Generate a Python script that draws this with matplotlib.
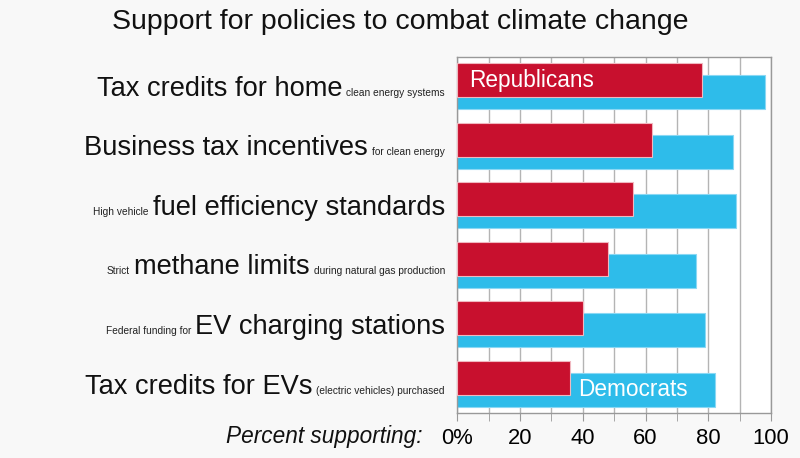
import matplotlib
matplotlib.use('Agg')
import matplotlib.pyplot as plt
import matplotlib.transforms as transforms

plt.rcParams['font.family'] = ['Liberation Sans', 'DejaVu Sans']

# Policy labels: small prefix, large main text, small suffix
prefixes = ['', '', 'High vehicle', 'Strict', 'Federal funding for', '']
mains = ['Tax credits for home', 'Business tax incentives', 'fuel efficiency standards',
         'methane limits', 'EV charging stations', 'Tax credits for EVs']
suffixes = ['clean energy systems', 'for clean energy', '', 'during natural gas production',
            '', '(electric vehicles) purchased']

# Percent supporting
republicans = [78, 62, 56, 48, 40, 36]
democrats = [98, 88, 89, 76, 79, 82]

tick_values = [0, 20, 40, 60, 80, 100]
tick_labels = ['0%', '20', '40', '60', '80', '100']

red = '#c8102e'
blue = '#2ebcea'

fig = plt.figure(figsize=(8, 4.58), dpi=100, facecolor='#f8f8f8')
ax = fig.add_axes([457.3 / 800, 1 - 413 / 458, (771 - 457.3) / 800, 356 / 458])
ax.set_facecolor('white')

rows = list(range(len(mains)))
ax.barh([r + 0.1 for r in rows], democrats, height=0.57, color=blue,
        edgecolor='#8ad8f4', linewidth=0.8, zorder=2)
ax.barh([r - 0.1 for r in rows], republicans, height=0.57, color=red,
        edgecolor='#f0b8c0', linewidth=0.8, zorder=3)

ax.set_xlim(0, 100)
ax.set_ylim(5.487, -0.487)
ax.set_xticks(tick_values)
ax.set_xticklabels(tick_labels, fontsize=15.8)
ax.set_xticks(range(10, 100, 20), minor=True)
ax.set_yticks([])
ax.tick_params(axis='x', which='both', direction='out', length=6, color='#999999', pad=5)
ax.grid(True, axis='x', which='both', color='#b4b4b4', linewidth=1)
ax.set_axisbelow(True)
for s in ax.spines.values():
    s.set_color('#999999')
    s.set_linewidth(1)

ax.text(3.7, -0.1, 'Republicans', color='white', fontsize=16.3, va='center', zorder=4)
ax.text(38.4, 5.1, 'Democrats', color='white', fontsize=16.3, va='center', zorder=4)

fig.text(0.5, 1 - 22 / 458, 'Support for policies to combat climate change',
         fontsize=20.5, ha='center', va='center', color='#111111')
fig.text(422 / 800, 1 - 437 / 458, 'Percent supporting:', fontsize=16.3,
         style='italic', ha='right', va='center', color='#111111')

# composite row labels, built right to left
renderer = fig.canvas.get_renderer()
trans = transforms.blended_transform_factory(fig.transFigure, ax.transData)
for i in rows:
    x = 445
    y = i + 0.16
    for txt, size, col in [(suffixes[i], 7.3, '#222222'), (mains[i], 19.6, '#111111'),
                           (prefixes[i], 7.3, '#222222')]:
        if not txt:
            continue
        t = fig.text(x / 800, y, txt, fontsize=size, color=col, ha='right',
                     va='baseline', transform=trans)
        w = t.get_window_extent(renderer).width
        x -= w + 4

fig.savefig('out.png', dpi=100, facecolor=fig.get_facecolor())
